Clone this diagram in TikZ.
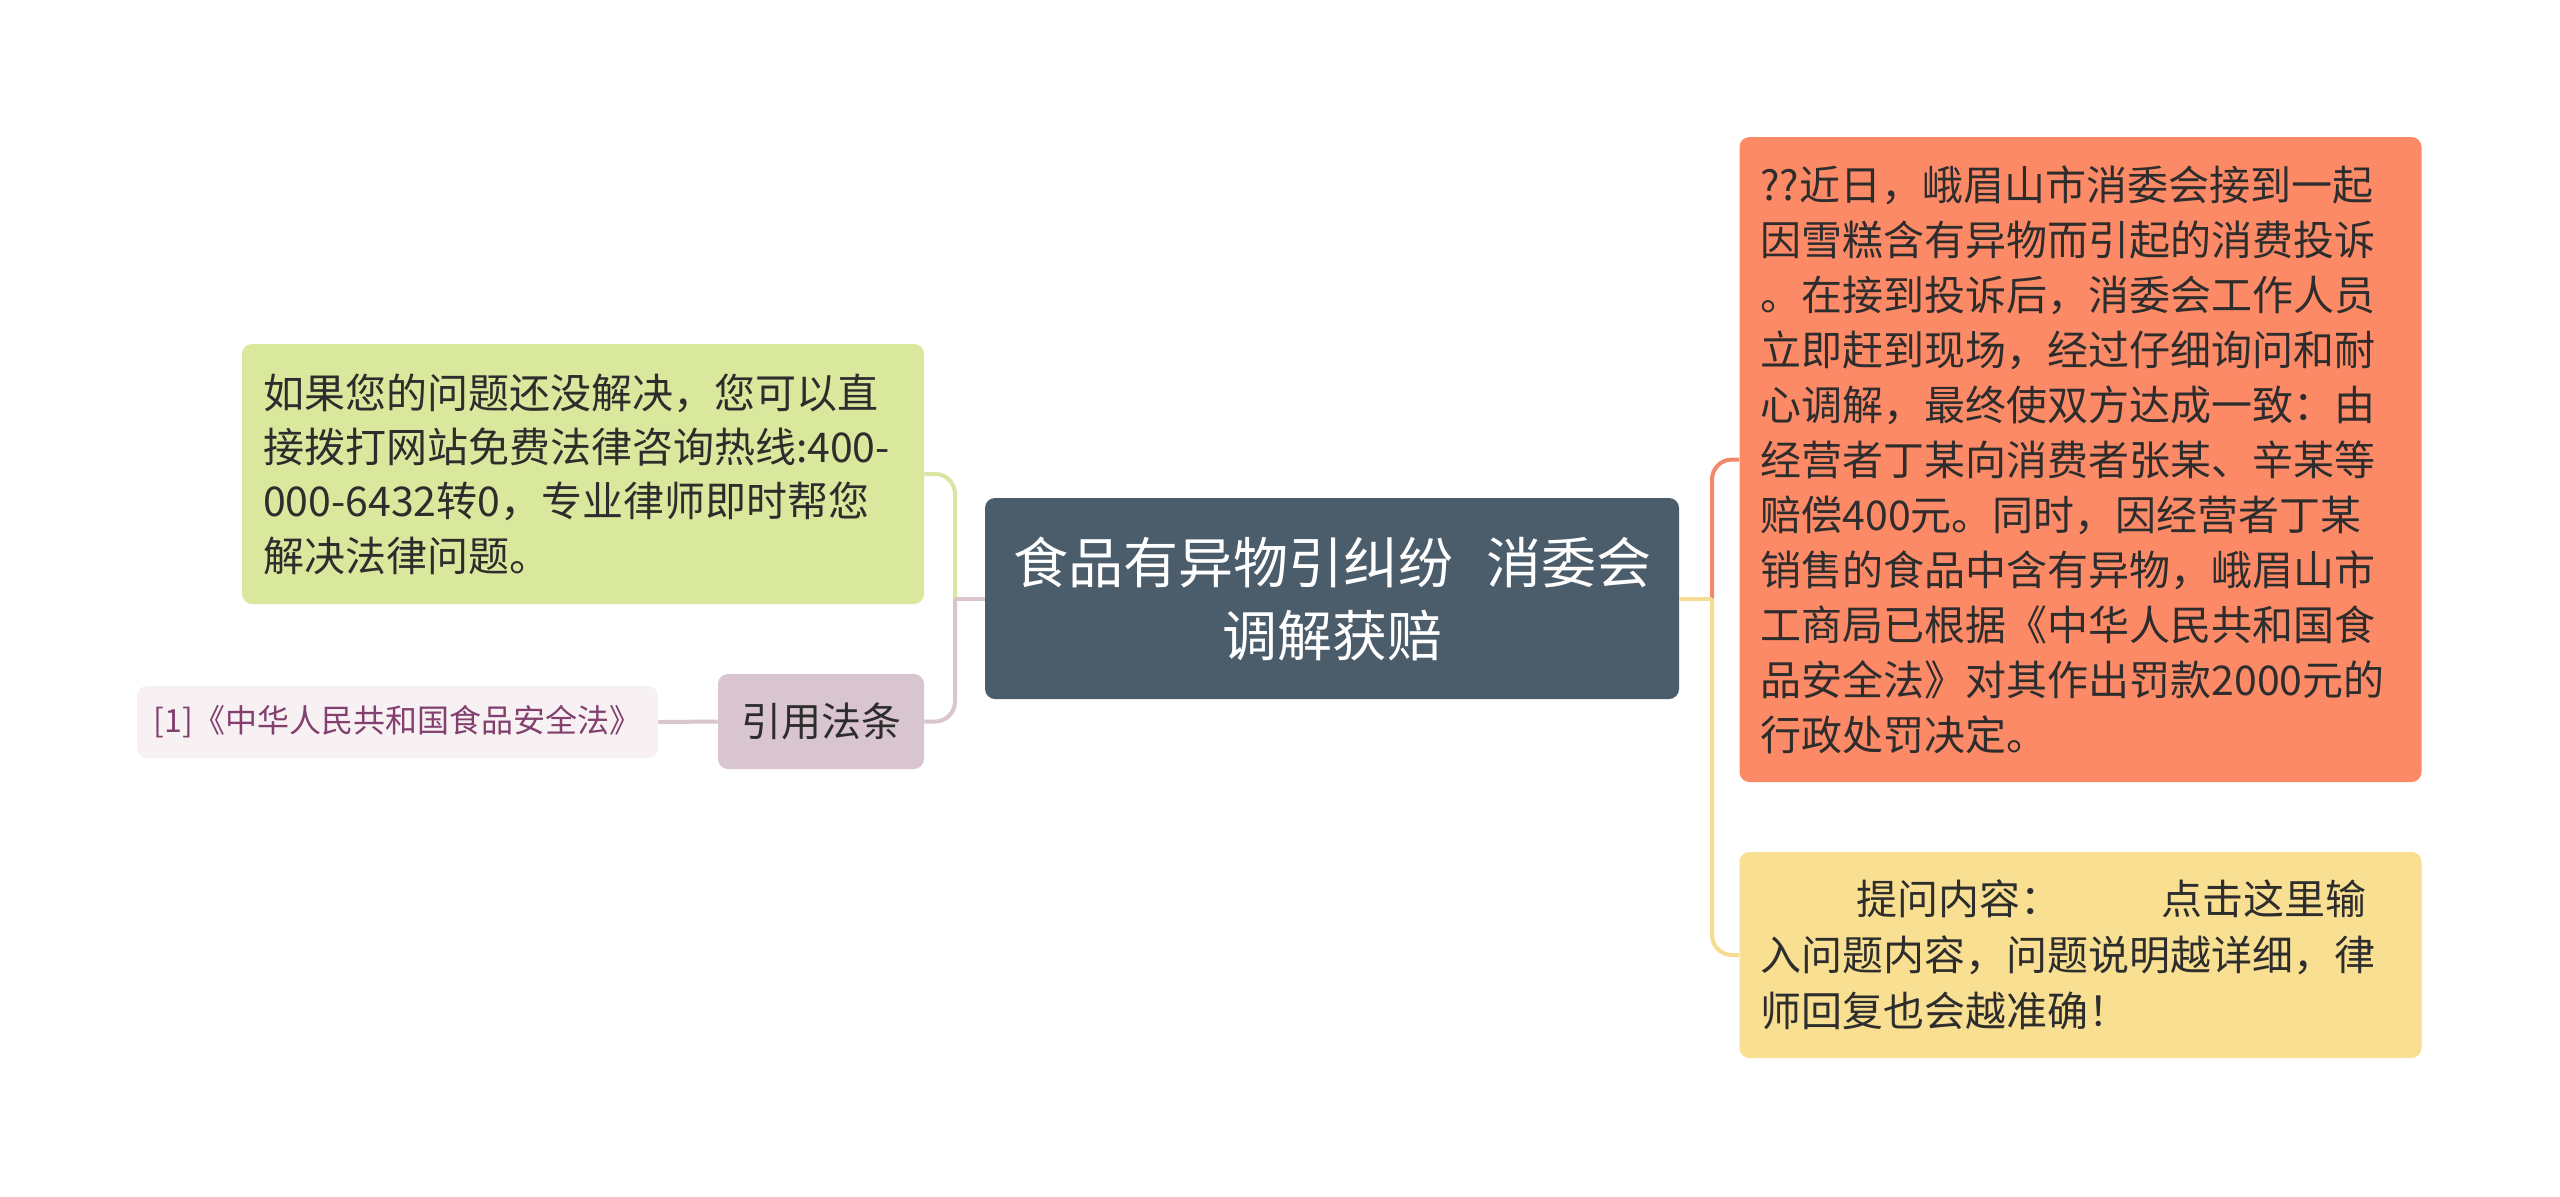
\documentclass[tikz,border=0pt]{standalone}
\usepackage{fontspec}
\setmainfont{Noto Sans CJK SC}
\usetikzlibrary{positioning}
\definecolor{slatebox}{HTML}{4B5C6B}
\definecolor{coral}{HTML}{FD8A66}
\definecolor{coralln}{HTML}{F2876C}
\definecolor{sand}{HTML}{F8DF91}
\definecolor{sandln}{HTML}{F6DC90}
\definecolor{lime}{HTML}{D9E89C}
\definecolor{limeln}{HTML}{D8E6A2}
\definecolor{mauve}{HTML}{D9C5CF}
\definecolor{mauveln}{HTML}{D8C5CE}
\definecolor{blush}{HTML}{F7F1F4}
\definecolor{plum}{HTML}{83406E}
\definecolor{ink}{HTML}{2D2D2D}

\begin{document}
\begin{tikzpicture}[x=0.5pt,y=-0.5pt,
  root/.style={fill=slatebox,rounded corners=5pt,text=white,align=center,minimum width=347pt,minimum height=100.5pt,font=\fontsize{27.5}{36.5}\selectfont},
  leaf/.style={rounded corners=5pt,text=ink,align=left,text width=320pt,inner xsep=10.5pt,inner ysep=0pt,font=\fontsize{20.5}{27.5}\selectfont},
  ln/.style={line width=2pt,rounded corners=10pt}]
\useasboundingbox (0,0) rectangle (2560,1196);
\fill[white] (0,0) rectangle (2560,1196);
\node[root] (root) at (1332,598.5) {食品有异物引纠纷\hspace{0.6em}消委会\\调解获赔};
\node[leaf,fill=coral,minimum height=322.5pt] (fact) at (2080.5,459.5)
  {??近日，峨眉山市消委会接到一起\\因雪糕含有异物而引起的消费投诉\\。在接到投诉后，消委会工作人员\\立即赶到现场，经过仔细询问和耐\\心调解，最终使双方达成一致：由\\经营者丁某向消费者张某、辛某等\\赔偿400元。同时，因经营者丁某\\销售的食品中含有异物，峨眉山市\\工商局已根据《中华人民共和国食\\品安全法》对其作出罚款2000元的\\行政处罚决定。};
\node[leaf,fill=sand,minimum height=103pt,font=\fontsize{20.5}{28}\selectfont] (ask) at (2080.5,955)
  {\hspace*{48pt}提问内容：\hspace{50pt}点击这里输\\入问题内容，问题说明越详细，律\\师回复也会越准确！};
\node[leaf,fill=lime,minimum height=130pt,font=\fontsize{20.5}{27.2}\selectfont] (hint) at (583,474)
  {如果您的问题还没解决，您可以直\\接拨打网站免费法律咨询热线:400-\\000-6432转0，专业律师即时帮您\\解决法律问题。};
\node[fill=mauve,rounded corners=5pt,text=ink,minimum width=103pt,minimum height=47.5pt,font=\fontsize{20}{24}\selectfont] (cite) at (821,721.5) {引用法条};
\node[fill=blush,rounded corners=5pt,text=plum,minimum width=260.5pt,minimum height=36pt,font=\fontsize{16}{20}\selectfont] (law) at (397.5,722) {[1]《中华人民共和国食品安全法》};
\coordinate (jl) at (955,598.5);
\coordinate (jr) at (1712,598.5);
\draw[ln,limeln] (jl) |- (hint.east);
\draw[ln,mauveln] (root.west) -- (jl);
\draw[ln,mauveln] (jl) |- (cite.east);
\draw[ln,mauveln] (cite.west) -- (law.east);
\draw[ln,coralln] (jr) |- (fact.west);
\draw[ln,sandln] (root.east) -- (jr);
\draw[ln,sandln] (jr) |- (ask.west);
\end{tikzpicture}
\end{document}
